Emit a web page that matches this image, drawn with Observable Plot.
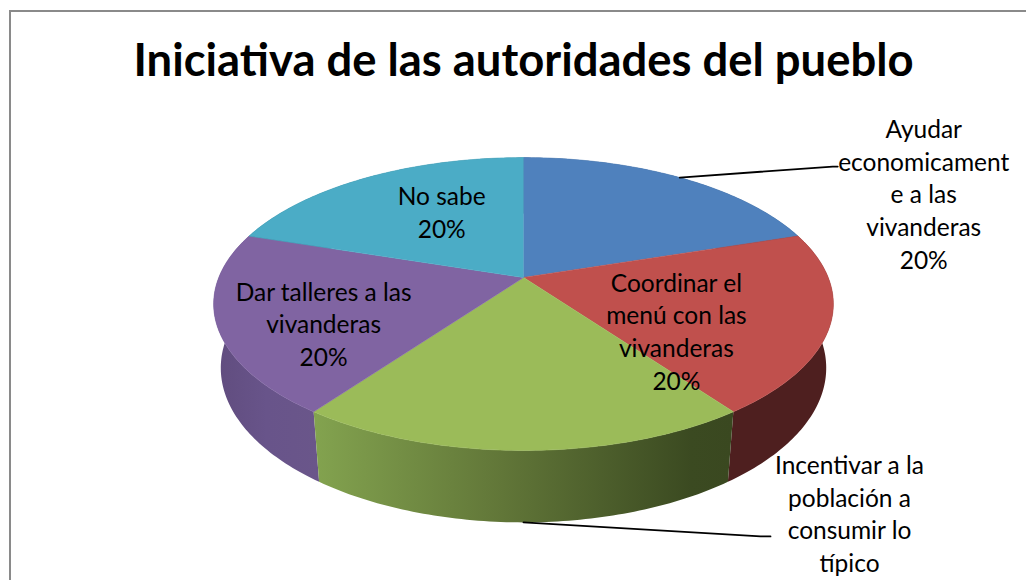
<!DOCTYPE html>
<html>
<head>
<meta charset="utf-8">
<script src="https://cdn.jsdelivr.net/npm/d3@7"></script>
<script src="https://cdn.jsdelivr.net/npm/@observablehq/plot@0.6"></script>
<style>
  html, body { margin: 0; padding: 0; background: #fff; }
  #chart { position: relative; width: 1026px; height: 580px; overflow: hidden; }
  #chart svg { position: absolute; left: 0; top: 0; background: transparent !important; }
  #border { position: absolute; left: 9px; top: 10px; width: 2000px; height: 2000px;
            border: 2px solid #8a8a8a; pointer-events: none; }
</style>
</head>
<body>
<div id="chart"><div id="border"></div></div>
<script>
// ---------------- data ----------------
const title = "Iniciativa de las autoridades del pueblo";
const categories = [
  "Ayudar economicamente a las vivanderas",
  "Coordinar el menú con las vivanderas",
  "Incentivar a la población a consumir lo típico",
  "Dar talleres a las vivanderas",
  "No sabe"
];
const labelLines = [
  ["Ayudar", "economicament", "e a las", "vivanderas"],
  ["Coordinar el", "menú con las", "vivanderas"],
  ["Incentivar a la", "población a", "consumir lo", "típico"],
  ["Dar talleres a las", "vivanderas"],
  ["No sabe"]
];
const shares = [20, 20, 20, 20, 20];
// the percentage line of the bottom label falls outside the picture in the reference
const showPercent = [true, true, false, true, true];

// ---------------- style / layout ----------------
const topColors = ["#4f81bd", "#c0504d", "#9bbb59", "#8064a2", "#4bacc6"];
const wallFills = ["#2c4a6e", "#4e1f1f", "url(#gWallGreen)", "url(#gWallPurple)", "#2a6474"];
const W = 1026, HS = 580;
const F = 1490, CX = 523, CY = 277;          // projection scale and centre (px)
const alpha = 27.7 * Math.PI / 180;          // camera tilt
const D0 = 4.89;                              // camera distance
const thick = 0.239;                          // pie thickness
const FONT = "Lato, 'Open Sans', sans-serif";
const fontSize = 24.5, lineGap = 32.6;

// label placement relative to an anchor on the pie (pixel offsets)
const labelLayout = [
  {rho: 1.0, H: 0,      dx: 244, dy: 15.5, leader: [[153, -11], [158, -11]]},
  {rho: 0.6, H: 0,      dx: -27, dy: 25.5},
  {rho: 1.0, H: -thick, dx: 326, dy: -10,  leader: [[237, 14], [247, 14]]},
  {rho: 0.6, H: 0,      dx: -20, dy: 18},
  {rho: 0.6, H: 0,      dx: 17,  dy: -3.5}
];

// ---------------- geometry ----------------
function project(theta, rho, H) {
  const u = rho * Math.sin(theta), v = rho * Math.cos(theta);
  const ca = Math.cos(alpha), sa = Math.sin(alpha);
  const depth = D0 + v * ca - H * sa;
  const up = H * ca + v * sa;
  return [u / depth, up / depth];
}
const N = 80;
function arcPts(a0, a1, rho, H) {
  const pts = [];
  for (let k = 0; k <= N; k++) pts.push(project(a0 + (a1 - a0) * k / N, rho, H));
  return pts;
}
const arcs = d3.pie().sort(null).value(d => d)(shares);
const mids = arcs.map(a => (a.startAngle + a.endAngle) / 2);

const topPolys = arcs.map((a, i) => ({i, pts: [project(0, 0, 0), ...arcPts(a.startAngle, a.endAngle, 1, 0)]}));
const wallPolys = arcs.map((a, i) => ({
  i, mid: mids[i],
  pts: [...arcPts(a.startAngle, a.endAngle, 1, 0), ...arcPts(a.endAngle, a.startAngle, 1, -thick)]
})).sort((p, q) => Math.cos(q.mid) - Math.cos(p.mid));

const px2u = ([dx, dy]) => [dx / F, -dy / F];

const labels = arcs.map((a, i) => {
  const L = labelLayout[i];
  const [x, y] = project(mids[i], L.rho, L.H);
  const lines = showPercent[i] ? [...labelLines[i], `${shares[i]}%`] : labelLines[i];
  return {i, x, y, dx: L.dx, dy: L.dy, text: lines.join("\n")};
});

const leaders = [];
arcs.forEach((a, i) => {
  const L = labelLayout[i];
  if (!L.leader) return;
  const [x0, y0] = project(mids[i], L.rho, L.H);
  const pts = [[x0, y0], ...L.leader.map(o => { const [ux, uy] = px2u(o); return [x0 + ux, y0 + uy]; })];
  leaders.push(pts);
});

// gradient definitions (style only)
function defsMark() {
  const defs = d3.create("svg:defs");
  const g1 = defs.append("linearGradient").attr("id", "gWallGreen")
    .attr("x1", "0").attr("y1", "0").attr("x2", "1").attr("y2", "0");
  g1.append("stop").attr("offset", "0").attr("stop-color", "#83a34f");
  g1.append("stop").attr("offset", "0.45").attr("stop-color", "#617638");
  g1.append("stop").attr("offset", "0.9").attr("stop-color", "#3b4a21");
  g1.append("stop").attr("offset", "1").attr("stop-color", "#3a4820");
  const g2 = defs.append("linearGradient").attr("id", "gWallPurple")
    .attr("x1", "0").attr("y1", "0").attr("x2", "1").attr("y2", "0");
  g2.append("stop").attr("offset", "0").attr("stop-color", "#604c7e");
  g2.append("stop").attr("offset", "0.5").attr("stop-color", "#68548a");
  g2.append("stop").attr("offset", "1").attr("stop-color", "#6a568a");
  return defs.node();
}

const marks = [
  defsMark,
  ...wallPolys.map(p => Plot.line(p.pts, {x: d => d[0], y: d => d[1], fill: wallFills[p.i], stroke: "none"})),
  ...topPolys.map(p => Plot.line(p.pts, {x: d => d[0], y: d => d[1], fill: topColors[p.i], stroke: topColors[p.i], strokeWidth: 0.6})),
  ...leaders.map(pts => Plot.line(pts, {x: d => d[0], y: d => d[1], stroke: "#000", strokeWidth: 1.8})),
  ...labels.map(l => Plot.text([l], {x: "x", y: "y", dx: l.dx, dy: l.dy, text: "text", fill: "#000",
    fontSize, lineHeight: lineGap / fontSize, lineAnchor: "middle", textAnchor: "middle", fontFamily: FONT})),
  Plot.text([title], {x: () => 0, frameAnchor: "top", dy: 61, text: d => d, fontSize: 45.4, fontWeight: "bold",
    fontFamily: FONT, fill: "#000", lineAnchor: "middle", textAnchor: "middle"})
];

const chart = Plot.plot({
  width: W, height: HS,
  margin: 0,
  x: {domain: [-CX / F, (W - CX) / F], axis: null},
  y: {domain: [(CY - HS) / F, CY / F], axis: null},
  style: {background: "transparent", fontFamily: FONT},
  marks
});
document.getElementById("chart").prepend(chart);
</script>
</body>
</html>
